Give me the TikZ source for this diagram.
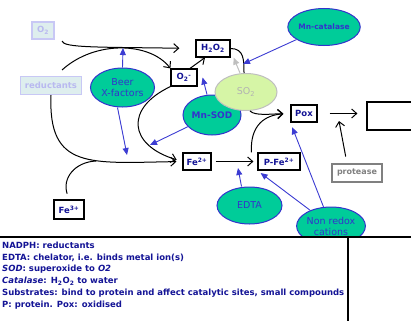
\documentclass[tikz,border=0pt]{standalone}
\usepackage{fontspec}
\setmainfont{DejaVu Sans}
\usetikzlibrary{shapes.geometric,arrows.meta}
\definecolor{enzfill}{RGB}{0,204,153}
\definecolor{enzline}{RGB}{51,51,204}
\definecolor{darkblue}{RGB}{20,20,150}
\definecolor{actblue}{RGB}{60,60,210}
\definecolor{so2fill}{RGB}{214,245,166}
\definecolor{fadefill}{RGB}{222,238,238}
\definecolor{fadeline}{RGB}{200,200,245}
\definecolor{fadetext}{RGB}{185,185,240}

\begin{document}
\begin{tikzpicture}
    [x=1pt,y=-1pt,
      box/.style={draw, line width=1.2pt, fill=white, inner sep=0pt,
        minimum height=17pt, text=darkblue, font=\bfseries\fontsize{8.5}{10}\selectfont},
      faded/.style={box, draw=fadeline, fill=fadefill, text=fadetext},
      enz/.style={ellipse, draw=enzline, line width=1pt, fill=enzfill, inner sep=0pt,
        minimum width=62pt, minimum height=37pt, align=center,
        text=enzline, font=\fontsize{9.5}{11}\selectfont},
      react/.style={line width=1pt, -{Straight Barb[length=5pt,width=9pt]}},
      act/.style={actblue, line width=0.9pt, -{Triangle[length=7pt,width=6pt]}},
      legend/.style={anchor=west, inner sep=0pt, text=darkblue,
        font=\bfseries\fontsize{8.5}{10}\selectfont}]
    \useasboundingbox (0,0) rectangle (411,321);

    \node[faded, minimum width=22pt] (o2) at (43,30.5) {O\textsubscript{2}};
    \node[faded, minimum width=61pt, minimum height=18pt] (red) at (51,85.5) {reductants};
    \node[enz, minimum width=64pt, minimum height=39pt] (beer) at (122.5,87.5) {Beer\\X-factors};
    \node[box, minimum width=34pt] (h2o2) at (213,48.5) {H\textsubscript{2}O\textsubscript{2}};
    \node[box, minimum width=26pt] (o2m) at (184,77.5) {O\textsubscript{2}\textsuperscript{-}};
    \node[enz, minimum width=60pt, font=\bfseries\fontsize{7.5}{9}\selectfont] (mncat) at (324,27) {Mn-catalase};
    \node[enz, minimum width=58pt, minimum height=40pt, font=\bfseries\fontsize{9}{10}\selectfont] (mnsod) at (212,115) {Mn-SOD};
    \node[enz, draw=gray!50, fill=so2fill, text=gray!60] (so2) at (246,92) {SO\textsubscript{2}};
    \node[box, minimum width=26pt] (pox) at (304,113.5) {Pox};
    \node[box, minimum width=50pt, minimum height=28pt] (outbox) at (392,116) {};
    \node[box, draw=gray, text=gray, minimum width=50pt, minimum height=18pt,
      font=\bfseries\fontsize{8}{9}\selectfont] (prot) at (357,173) {protease};
    \node[box, minimum width=28pt] (fe2) at (197,161.5) {Fe\textsuperscript{2+}};
    \node[box, minimum width=42pt] (pfe2) at (279,161.5) {P-Fe\textsuperscript{2+}};
    \node[box, minimum width=30pt, minimum height=19pt] (fe3) at (69,209.5) {Fe\textsuperscript{3+}};
    \node[enz, minimum width=65pt] (edta) at (249.5,205.5) {EDTA};
    \node[enz, minimum height=38pt] (nonred) at (331,226) {Non redox\\cations};

    % free ends of the side arrows
    \coordinate (o2out) at (62,41);
    \coordinate (redout) at (62,70);
    \coordinate (peak) at (123,48);
    \coordinate (catpt) at (243,64);
    \coordinate (sodpt) at (150,145);
    \coordinate (beerpt) at (127,155);
    \coordinate (edtapt) at (238,168);
    \coordinate (protpt) at (339,121);
    \coordinate (join) at (96,161);

    \draw[react, shorten >=16pt] (o2out) .. controls (63,48) and (100,47) .. (h2o2.west);
    \draw[react] (redout) .. controls (95,40) and (150,42) .. (o2m.north west);
    \draw[react] ([xshift=6pt]o2m.north) -- ([xshift=-8pt]h2o2.south);
    \draw[line width=1pt] (h2o2.east) .. controls (244,48.5) and (244,60) .. ([xshift=-2pt]so2.north);
    \draw[gray!50, line width=1pt, -{Triangle[length=7pt,width=6pt]}] ([xshift=-6pt]so2.north) -- ([xshift=3pt]h2o2.south east);
    \draw[react, shorten >=7pt] ([xshift=4pt]so2.south) .. controls (255,116) and (270,114) .. (pox.west);
    \draw[react, shorten >=7pt] ([xshift=-6pt]pfe2.north west) .. controls (250,125) and (265,115) .. (pox.west);
    \draw[react, shorten >=6pt] (red.south) .. controls (48,170) and (90,163) .. (fe2.west);
    \draw[line width=1pt, shorten <=6pt] (fe3.north) .. controls (62,178) and (75,162) .. (join);
    \draw[react, shorten >=6pt] (o2m.south west) .. controls (125,108) and (128,145) .. (fe2.west);
    \draw[react, shorten <=4pt, shorten >=4pt] (fe2) -- (pfe2);
    \draw[react, shorten <=12pt, shorten >=9pt] (pox.east) -- (pox.east -| outbox.west);
    \draw[react, shorten <=7pt] ([xshift=-10pt]prot.north) -- (protpt);

    \draw[act] (beer.north) -- (peak);
    \draw[act] ([xshift=-5pt]beer.south) -- (beerpt);
    \draw[act] (mncat) -- (catpt);
    \draw[act] ([xshift=-5pt]mnsod.north) -- ([xshift=5pt]o2m.east);
    \draw[act] (mnsod) -- (sodpt);
    \draw[act] ([xshift=-8pt]edta.north) -- (edtapt);
    \draw[act, shorten >=4pt] (nonred) -- (pfe2.south west);
    \draw[act, shorten >=5pt] (nonred) -- (pox.south west);

    \fill[white] (0,237) rectangle (411,321);
    \draw[line width=2.2pt] (0,237) -- (411,237);
    \draw[line width=1.4pt] (348,237) -- (348,321);
    \foreach \t [count=\i] in {{NADPH: reductants},
      {EDTA: chelator, i.e. binds metal ion(s)},
      {\textit{SOD}: superoxide to \textit{O2}},
      {\textit{Catalase}: H\textsubscript{2}O\textsubscript{2} to water},
      {Substrates: bind to protein and affect catalytic sites, small compounds},
      {P: protein. Pox: oxidised}}
      \node[legend] (leg\i) at (2,{234+11.8*\i}) {\t};
  \end{tikzpicture}
\end{document}
